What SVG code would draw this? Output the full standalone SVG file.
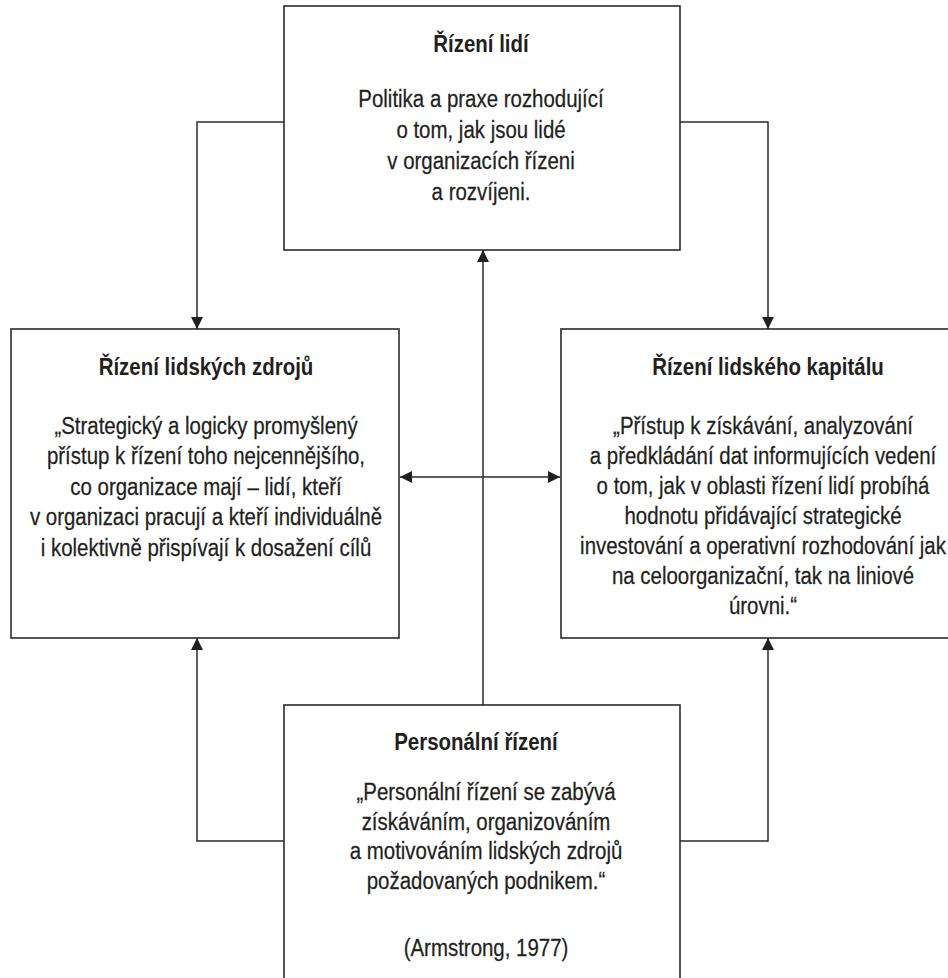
<svg xmlns="http://www.w3.org/2000/svg" width="948" height="978" viewBox="0 0 948 978">
  <style>
    .box { fill: #ffffff; stroke: #2b2b2b; stroke-width: 1.6; }
    .conn { fill: none; stroke: #2b2b2b; stroke-width: 1.5; }
    text { font-family: "Liberation Sans", Arial, sans-serif; font-size: 23.5px; fill: #231f20; text-anchor: middle; stroke: #231f20; stroke-width: 0.25; }
    .title { font-weight: bold; stroke-width: 0; }
  </style>
  <defs>
    <marker id="arrow" markerUnits="userSpaceOnUse" markerWidth="13" markerHeight="12" refX="12" refY="6" orient="auto-start-reverse" viewBox="0 0 13 12">
      <path d="M0,0 L12,6 L0,12 z" fill="#231f20"/>
    </marker>
  </defs>
  <rect width="948" height="978" fill="#ffffff"/>

  <g id="connectors">
    <path class="conn" d="M284,122 H197 V329" marker-end="url(#arrow)"/>
    <path class="conn" d="M680,122 H768 V329" marker-end="url(#arrow)"/>
    <path class="conn" d="M483,705 V250" marker-end="url(#arrow)"/>
    <path class="conn" d="M400,477 H560" marker-start="url(#arrow)" marker-end="url(#arrow)"/>
    <path class="conn" d="M284,841 H197 V638" marker-end="url(#arrow)"/>
    <path class="conn" d="M680,841 H768 V638" marker-end="url(#arrow)"/>
  </g>

  <g id="rizeni-lidi">
    <rect class="box" x="284" y="6" width="396" height="244"/>
    <g transform="translate(481 0) scale(0.87 1)">
      <text class="title" x="0" y="52">Řízení lidí</text>
      <text x="0" y="107">Politika a praxe rozhodující</text>
      <text x="0" y="138">o tom, jak jsou lidé</text>
      <text x="0" y="169">v organizacích řízeni</text>
      <text x="0" y="200">a rozvíjeni.</text>
    </g>
  </g>

  <g id="rizeni-lidskych-zdroju">
    <rect class="box" x="11" y="329" width="388" height="309"/>
    <g transform="translate(206 0) scale(0.87 1)">
      <text class="title" x="0" y="375">Řízení lidských zdrojů</text>
      <text x="0" y="434">„Strategický a logicky promyšlený</text>
      <text x="0" y="464.5">přístup k řízení toho nejcennějšího,</text>
      <text x="0" y="495">co organizace mají – lidí, kteří</text>
      <text x="0" y="525.5">v organizaci pracují a kteří individuálně</text>
      <text x="0" y="556">i kolektivně přispívají k dosažení cílů</text>
    </g>
  </g>

  <g id="rizeni-lidskeho-kapitalu">
    <rect class="box" x="561" y="329" width="420" height="309"/>
    <g transform="translate(768 0) scale(0.87 1)">
      <text class="title" x="0" y="375">Řízení lidského kapitálu</text>
    </g>
    <g transform="translate(763 0) scale(0.87 1)">
      <text x="0" y="434">„Přístup k získávání, analyzování</text>
      <text x="0" y="464">a předkládání dat informujících vedení</text>
      <text x="0" y="494">o tom, jak v oblasti řízení lidí probíhá</text>
      <text x="0" y="524">hodnotu přidávající strategické</text>
      <text x="0" y="554">investování a operativní rozhodování jak</text>
      <text x="0" y="584">na celoorganizační, tak na liniové</text>
      <text x="0" y="614">úrovni.“</text>
    </g>
  </g>

  <g id="personalni-rizeni">
    <rect class="box" x="284" y="705" width="396" height="290"/>
    <g transform="translate(476 0) scale(0.87 1)">
      <text class="title" x="0" y="750">Personální řízení</text>
    </g>
    <g transform="translate(486 0) scale(0.87 1)">
      <text x="0" y="800">„Personální řízení se zabývá</text>
      <text x="0" y="830">získáváním, organizováním</text>
      <text x="0" y="859">a motivováním lidských zdrojů</text>
      <text x="0" y="889">požadovaných podnikem.“</text>
      <text x="0" y="956">(Armstrong, 1977)</text>
    </g>
  </g>
</svg>
